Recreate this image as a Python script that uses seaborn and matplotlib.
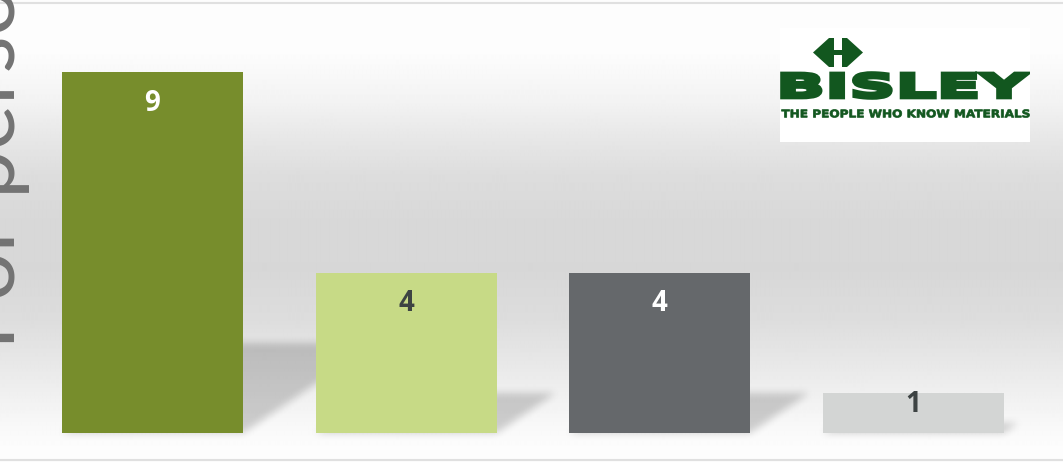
import numpy as np
import matplotlib
matplotlib.use("Agg")
import matplotlib.pyplot as plt
import seaborn as sns
from matplotlib.patches import Rectangle, Polygon, PathPatch
from matplotlib.textpath import TextPath
from matplotlib.font_manager import FontProperties
from matplotlib.transforms import Affine2D
from matplotlib.lines import Line2D

# data
categories = ["Group 1", "Group 2", "Group 3", "Group 4"]
values = [9, 4, 4, 1]
bar_colors = ["#778d2c", "#c7da86", "#65686b", "#d3d5d4"]
label_colors = ["white", "#3d4343", "white", "#3d4343"]
side_title = "For person"
logo_name = "BISLEY"
logo_tag = "THE PEOPLE WHO KNOW MATERIALS"

W, H = 1063, 462
x0, x1 = -0.6016, 3.5917
y0, y1 = -0.723, 10.80
bw = 0.714
green = "#12571f"

sns.set_theme(style="white")
plt.rcParams["font.family"] = ["Open Sans", "DejaVu Sans"]

fig = plt.figure(figsize=(W / 100, H / 100), dpi=100)
ax = fig.add_axes([0, 0, 1, 1])

sns.barplot(x=categories, y=values, hue=categories, palette=bar_colors,
            width=bw, saturation=1, legend=False, ax=ax)
for p in ax.patches:
    p.set_zorder(3)
    p.set_linewidth(0)

ax.set_xlim(x0, x1)
ax.set_ylim(y0, y1)
ax.axis("off")

# background gradient (white -> grey -> white)
rows = np.arange(H)
keys_y = [0, 55, 100, 135, 175, 220, 270, 320, 360, 395, 425, 445, 462]
keys_v = [253, 252, 243, 232, 221, 216, 215, 221, 231, 240, 248, 252, 253]
grad = np.interp(rows, keys_y, keys_v)[:, None] * np.ones((1, 4))
ax.imshow(grad, cmap="gray", vmin=0, vmax=255, extent=(x0, x1, y0, y1),
          aspect="auto", origin="upper", zorder=0, interpolation="bilinear")

# soft slanted shadows behind the bars
xd = x0 + (np.arange(W) + 0.5) / W * (x1 - x0)
yd = y1 - (np.arange(H) + 0.5) / H * (y1 - y0)
XD, YD = np.meshgrid(xd, yd)
mask = np.zeros((H, W))
for i, v in enumerate(values):
    hs = 0.25 * v
    sx = XD - 0.234 * YD
    inside = (YD >= 0) & (YD <= hs) & (sx >= i - bw / 2) & (sx <= i + bw / 2)
    mask[inside] = 1.0
k = np.ones(9) / 9
for _ in range(2):
    mask = np.apply_along_axis(lambda r: np.convolve(r, k, mode="same"), 1, mask)
    mask = np.apply_along_axis(lambda c: np.convolve(c, k, mode="same"), 0, mask)
shadow = np.zeros((H, W, 4))
shadow[..., 3] = mask * 0.18
ax.imshow(shadow, extent=(x0, x1, y0, y1), aspect="auto", origin="upper",
          zorder=2, interpolation="bilinear")

# value labels
for i, v in enumerate(values):
    ax.text(i, v - min(0.77, 0.29 * v), str(v), ha="center", va="center",
            fontsize=20, fontweight="bold", color=label_colors[i], zorder=4)

# frame lines
fig.add_artist(Line2D([0, 1], [1 - 3 / H, 1 - 3 / H], color="#e0e0e0", lw=1.5,
                      transform=fig.transFigure))
fig.add_artist(Line2D([0, 1], [1 - 460 / H, 1 - 460 / H], color="#e0e0e0", lw=1.5,
                      transform=fig.transFigure))

# cropped side title
fig.text(15 / W, (H - 349) / H, side_title, rotation=90, rotation_mode="anchor",
         ha="left", va="baseline", fontsize=62, color="#737373",
         family=["Lato", "DejaVu Sans"], fontweight="normal")

# logo
lax = fig.add_axes([780 / W, (H - 142) / H, 250 / W, 114 / H])
lax.set_xlim(0, 250)
lax.set_ylim(0, 114)
lax.axis("off")
lax.add_patch(Rectangle((0, 0), 250, 114, color="white", lw=0))

arrow_px = [(813, 52.5), (829, 38), (834, 38), (834, 50), (842, 50), (842, 38),
            (847, 38), (863, 52.5), (847, 67), (842, 67), (842, 55), (834, 55),
            (834, 67), (829, 67)]
lax.add_patch(Polygon([(x - 780, 142 - y) for x, y in arrow_px], color=green, lw=0))


def fit_text(s, left, right, top, bottom, stroke):
    tp = TextPath((0, 0), s, size=10,
                  prop=FontProperties(family="DejaVu Sans", weight="bold"))
    bb = tp.get_extents()
    tr = (Affine2D().translate(-bb.x0, -bb.y0)
          .scale((right - left) / bb.width, (bottom - top) / bb.height)
          .translate(left - 780, 142 - bottom))
    lax.add_patch(PathPatch(tr.transform_path(tp), facecolor=green,
                            edgecolor=green, lw=stroke, joinstyle="miter"))


fit_text(logo_name, 782, 1028, 73, 98, 2.6)
fit_text(logo_tag, 781.5, 1029.5, 109.5, 117.5, 0.5)

fig.savefig("out.png", dpi=100)
